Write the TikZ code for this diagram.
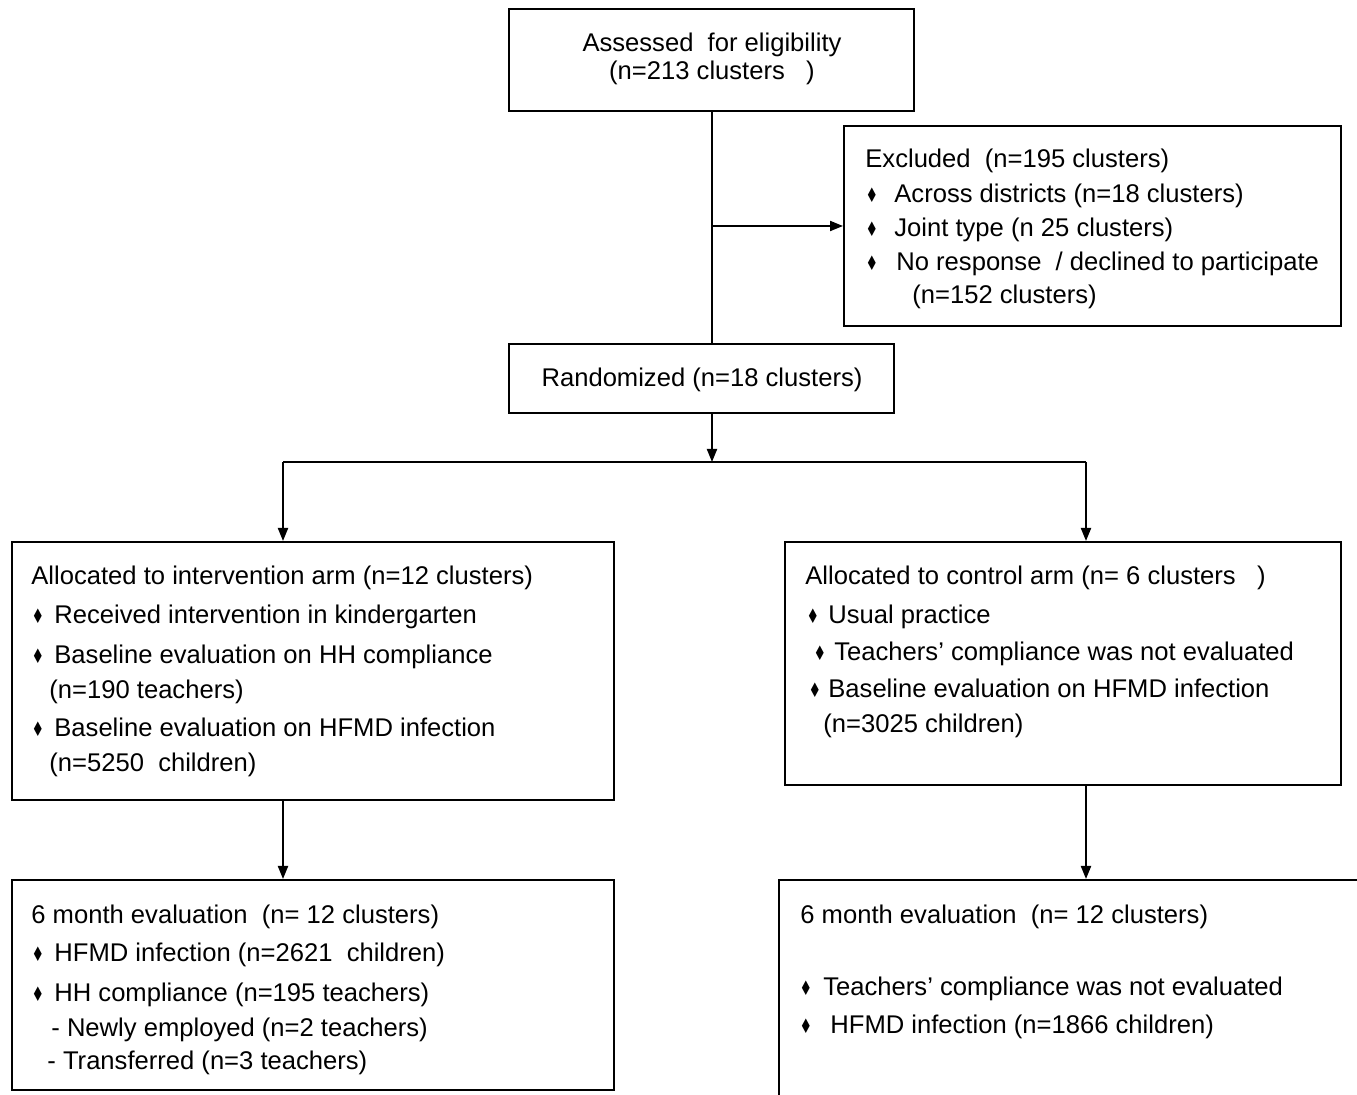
\documentclass[tikz,border=0pt]{standalone}
\usepackage{fontspec}
\setmainfont{Liberation Sans}
\newfontfamily\dvfont{DejaVu Sans}
\usepackage{graphicx}
\usetikzlibrary{arrows.meta,fit}
\newcommand\dia{\scalebox{0.7}[1]{♦}}
\begin{document}
\begin{tikzpicture}[x=0.5pt,y=-0.5pt,
  box/.style={draw, line width=1pt, inner sep=0pt},
  arr/.style={line width=1pt, -{Triangle[length=6.5pt,width=5pt]}},
  ln/.style={line width=1pt},
  txt/.style={anchor=base west, inner sep=0pt, font=\fontsize{12.8}{15}\selectfont},
  ctxt/.style={anchor=base, inner sep=0pt, font=\fontsize{12.8}{15}\selectfont},
  bul/.style={anchor=center, inner sep=0pt, font=\dvfont\fontsize{10}{10}\selectfont}]
\useasboundingbox (0,0) rectangle (1357,1095);
\clip (0,0) rectangle (1357,1095);
\fill[white] (0,0) rectangle (1357,1095);

% boxes
\node[box, fit={(509,9) (914,111)}] (assess) {};
\node[box, fit={(844,126) (1341,326)}] (excl) {};
\node[box, fit={(509,344) (894,413)}] (rand) {};
\node[box, fit={(12,542) (614,800)}] (interv) {};
\node[box, fit={(785,542) (1341,785)}] (ctrl) {};
\node[box, fit={(12,880) (614,1090)}] (evalL) {};
\node[box, fit={(779,880) (1390,1140)}] (evalR) {};

% assessed
\node[ctxt] (a1) at (712,52) {Assessed\ \ for eligibility};
\node[ctxt] (a2) at (712,80) {(n=213 clusters\ \ \ )};

% excluded
\node[txt] (e1) at (865,168) {Excluded\ \ (n=195 clusters)};
\node[bul] (eb1) at (872,195) {\dia};
\node[txt] (e2) at (894,203) {Across districts (n=18 clusters)};
\node[bul] (eb2) at (872,229) {\dia};
\node[txt] (e3) at (894,237) {Joint type (n 25 clusters)};
\node[bul] (eb3) at (872,263) {\dia};
\node[txt] (e4) at (896,271) {No response\ \ / declined to participate};
\node[txt] (e5) at (912,304) {(n=152 clusters)};

% randomized
\node[ctxt] (r1) at (702,387) {Randomized (n=18 clusters)};

% intervention
\node[txt] (i1) at (31,585) {Allocated to intervention arm (n=12 clusters)};
\node[bul] (ib1) at (38,616) {\dia};
\node[txt] (i2) at (54,624) {Received intervention in kindergarten};
\node[bul] (ib2) at (38,656) {\dia};
\node[txt] (i3) at (54,664) {Baseline evaluation on HH compliance};
\node[txt] (i4) at (49,699) {(n=190 teachers)};
\node[bul] (ib3) at (38,729) {\dia};
\node[txt] (i5) at (54,737) {Baseline evaluation on HFMD infection};
\node[txt] (i6) at (49,772) {(n=5250\ \ children)};

% control
\node[txt] (c1) at (805,585) {Allocated to control arm (n= 6 clusters\ \ \ )};
\node[bul] (cb1) at (813,616) {\dia};
\node[txt] (c2) at (828,624) {Usual practice};
\node[bul] (cb2) at (820,653) {\dia};
\node[txt] (c3) at (834,661) {Teachers’ compliance was not evaluated};
\node[bul] (cb3) at (815,690) {\dia};
\node[txt] (c4) at (828,698) {Baseline evaluation on HFMD infection};
\node[txt] (c5) at (823,733) {(n=3025 children)};

% eval left
\node[txt] (l1) at (31,924) {6 month evaluation\ \ (n= 12 clusters)};
\node[bul] (lb1) at (38,954) {\dia};
\node[txt] (l2) at (54,962) {HFMD infection (n=2621\ \ children)};
\node[bul] (lb2) at (38,994) {\dia};
\node[txt] (l3) at (54,1002) {HH compliance (n=195 teachers)};
\node[txt] (l4) at (51,1037) {- Newly employed (n=2 teachers)};
\node[txt] (l5) at (47,1070) {- Transferred (n=3 teachers)};

% eval right
\node[txt] (m1) at (800,924) {6 month evaluation\ \ (n= 12 clusters)};
\node[bul] (mb1) at (806,988) {\dia};
\node[txt] (m2) at (823,996) {Teachers’ compliance was not evaluated};
\node[bul] (mb2) at (806,1026) {\dia};
\node[txt] (m3) at (830,1034) {HFMD infection (n=1866 children)};

% connectors
\coordinate (split) at (712,462);
\coordinate (lsp) at (283,462);
\coordinate (rsp) at (1086,462);
\draw[ln] (assess.south) -- (assess.south |- rand.north);
\draw[arr] (assess.south |- excl.west) -- (excl.west);
\draw[arr] (rand.south -| split) -- (split);
\draw[ln] (lsp) -- (rsp);
\draw[arr] (lsp) -- (lsp |- interv.north);
\draw[arr] (rsp) -- (rsp |- ctrl.north);
\draw[arr] (interv.south -| lsp) -- (lsp |- evalL.north);
\draw[arr] (ctrl.south -| rsp) -- (rsp |- evalR.north);
\end{tikzpicture}
\end{document}
